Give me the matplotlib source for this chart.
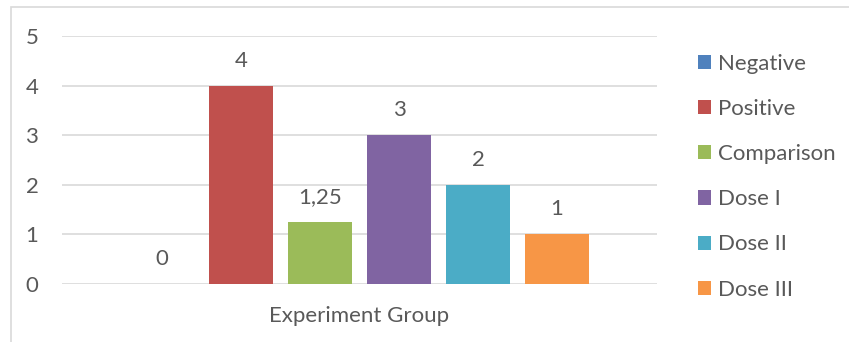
import matplotlib.pyplot as plt
from matplotlib.patches import Rectangle

groups = ['Negative', 'Positive', 'Comparison', 'Dose I', 'Dose II', 'Dose III']
values = [0, 4, 1.25, 3, 2, 1]
colors = ['#4F81BD', '#C0504D', '#9BBB59', '#8064A2', '#4BACC6', '#F79646']
yticks = [0, 1, 2, 3, 4, 5]

plt.rcParams['font.family'] = ['Lato', 'DejaVu Sans']
text_color = '#595959'
fs = 16

fig = plt.figure(figsize=(8.49, 3.42), dpi=100)
ax = fig.add_axes([62 / 849, 1 - 284 / 342, 595 / 849, 248 / 342])

for i, (g, v, c) in enumerate(zip(groups, values, colors)):
    ax.bar(i, v, width=0.8, color=c, label=g, zorder=3)
    lab = f'{v:g}'.replace('.', ',')
    ax.annotate(lab, (i, v), xytext=(0, 18), textcoords='offset points',
                ha='center', va='center', fontsize=fs, color=text_color)

ax.set_xlim(-1.265, 6.265)
ax.set_ylim(0, 5)
ax.set_yticks(yticks)
ax.set_xticks([])
ax.grid(axis='y', color='#D9D9D9', linewidth=1.2, zorder=0)
for s in ax.spines.values():
    s.set_visible(False)
ax.tick_params(axis='y', length=0, pad=17, labelsize=fs, labelcolor=text_color)
ax.set_xlabel('Experiment Group', fontsize=fs, color=text_color, labelpad=16)

leg = fig.legend(loc='upper left', bbox_to_anchor=(678 / 849, 1 - 34 / 342),
                 frameon=False, fontsize=fs, handlelength=0.6, handleheight=0.6,
                 handletextpad=0.3, labelspacing=1.13, labelcolor=text_color)

fig.patches.append(Rectangle((10.5 / 849, -0.1), 1.2, 1.1 - 6.5 / 342,
                             transform=fig.transFigure, fill=False,
                             edgecolor='#D9D9D9', linewidth=1.2))

fig.savefig('out.png', dpi=100)
